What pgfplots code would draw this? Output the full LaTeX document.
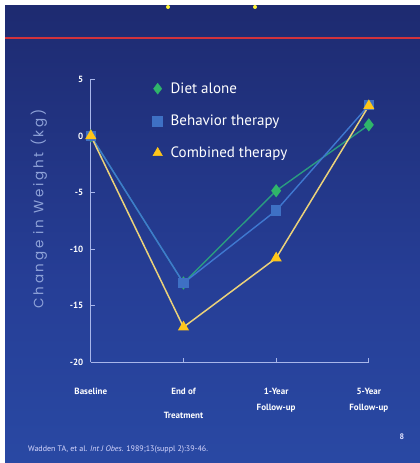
\documentclass[border=0pt]{standalone}
\usepackage{pgfplots}
\pgfplotsset{compat=1.18}
\usepackage{fontspec}
\setmainfont{PT Sans}
\newfontfamily\labfont[LetterSpace=20]{Poppins}
\definecolor{bgtop}{HTML}{0E1240}
\definecolor{bgtopb}{HTML}{1A2260}
\definecolor{bgmid}{HTML}{263E96}
\definecolor{bgbot}{HTML}{2D56B4}
\definecolor{axisc}{HTML}{A8B6EA}
\definecolor{dietl}{HTML}{2A9C80}
\definecolor{dietm}{HTML}{2FB56A}
\definecolor{behl}{HTML}{3F78D0}
\definecolor{behm}{HTML}{3E70C4}
\definecolor{coml}{HTML}{EBD27A}
\definecolor{comm}{HTML}{FFC61A}
\definecolor{redl}{HTML}{D2323C}
\definecolor{ylab}{HTML}{8EA2D8}
\pgfdeclareverticalshading{bgshade}{100bp}{color(0bp)=(bgbot); color(45bp)=(bgmid); color(88bp)=(bgtopb); color(100bp)=(bgtop)}
\begin{document}
\begin{tikzpicture}[x=1pt,y=1pt]
\fill[white] (0,0) rectangle (420,463);
\shade[shading=bgshade] (5,0) rectangle (420,457);
\draw[redl, line width=2.5pt] (5,425) -- (420,425);
\fill[yellow!80!white] (168,456) circle (2);
\fill[yellow!80!white] (255,456) circle (2);
\node[rotate=90, text=ylab, font=\labfont\fontsize{13.5}{15}\selectfont] at (39,254) {Change in Weight (kg)};
\begin{axis}[
  at={(98,89)}, anchor=south west,
  scale only axis, width=278pt, height=283pt,
  xmin=0, xmax=3, ymin=-20, ymax=5,
  axis x line*=bottom, axis y line*=left,
  axis line style={-, draw=axisc, line width=1.1pt},
  xtick={0,1,2,3}, ytick={-20,-15,-10,-5,0,5},
  yticklabels={-20,-15,-10,-5,0,5},
  xticklabels={Baseline,{End of\\[8pt]Treatment},{1-Year\\Follow-up},{5-Year\\Follow-up}},
  tick align=inside, major tick length=4pt,
  tick style={draw=axisc, line width=1pt},
  ticklabel style={text=white, font=\bfseries\fontsize{9}{16}\selectfont},
  xticklabel style={align=center, yshift=-22pt},
  yticklabel style={xshift=-4pt},
  legend style={at={(0.211,1.003)}, anchor=north west, draw=none, fill=none,
    text=white, font=\fontsize{15}{17}\selectfont, row sep=16pt, column sep=6pt},
  legend cell align=left,
  legend image code/.code={\draw[#1] plot coordinates {(0pt,0pt)};},
  clip=false,
]
\addplot[forget plot, dietl, line width=1.4pt, mark=diamond*, mark size=5.5pt, mark options={fill=dietm, draw=dietm}] coordinates {(0,0) (1,-13) (2,-4.85) (3,0.97)};
\addplot[forget plot, behl, line width=1.4pt, mark=square*, mark size=4.5pt, mark options={fill=behm, draw=behm}] coordinates {(0,0) (1,-13) (2,-6.6) (3,2.7)};
\addplot[forget plot, coml, line width=1.5pt, mark=triangle*, mark size=5pt, mark options={fill=comm, draw=comm}] coordinates {(0,0) (1,-16.9) (2,-10.8) (3,2.65)};
\addlegendimage{only marks, mark=diamond*, mark size=5.5pt, mark options={fill=dietm, draw=dietm}}
\addlegendentry{Diet alone}
\addlegendimage{only marks, mark=square*, mark size=5pt, mark options={fill=behm, draw=behm}}
\addlegendentry{Behavior therapy}
\addlegendimage{only marks, mark=triangle*, mark size=5.5pt, mark options={fill=comm, draw=comm}}
\addlegendentry{Combined therapy}
\end{axis}
\node[anchor=west, text=white!85!blue, font=\fontsize{8}{9}\selectfont, inner sep=0] at (28,13) {Wadden TA, et al. \textit{Int J Obes.} 1989;13(suppl 2):39-46.};
\node[text=white!90!blue, font=\bfseries\fontsize{8}{9}\selectfont, inner sep=0] at (402,26) {8};
\pgfresetboundingbox
\path[use as bounding box] (0,0) rectangle (420,463);
\end{tikzpicture}
\end{document}
